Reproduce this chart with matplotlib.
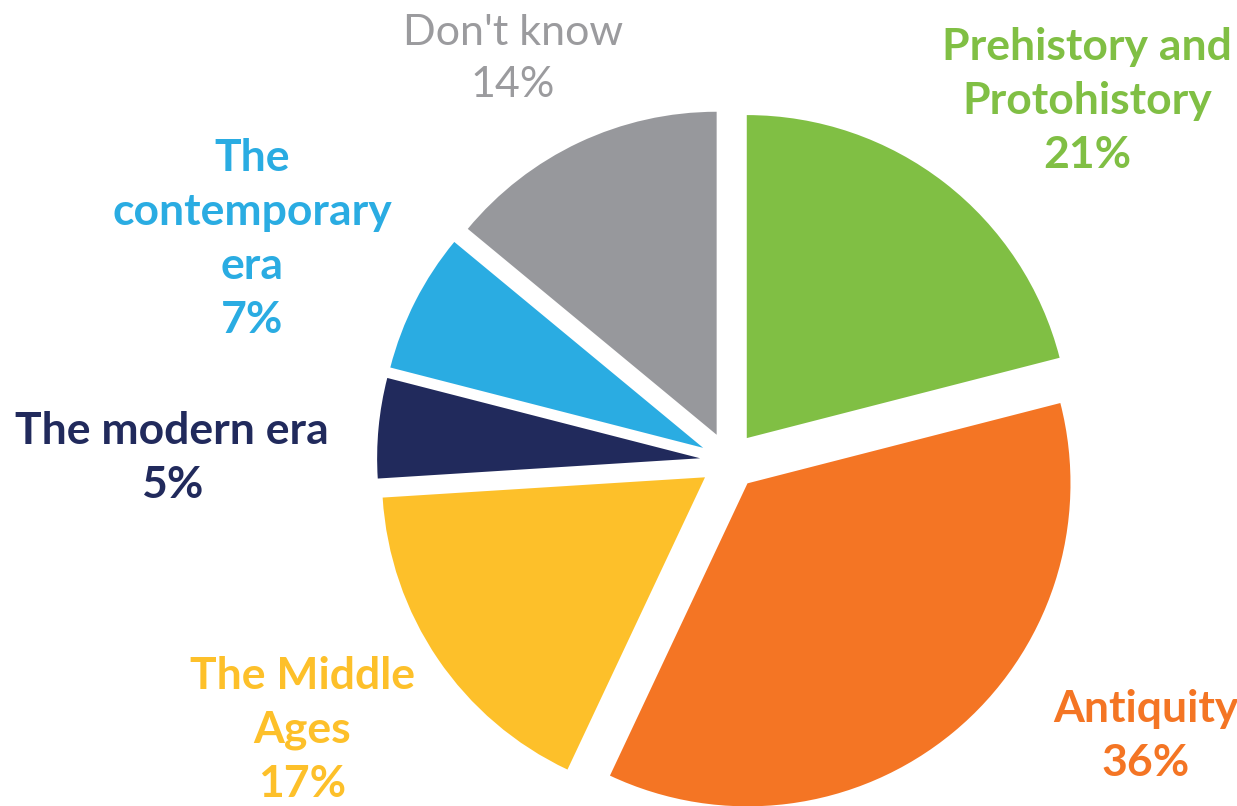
import matplotlib
matplotlib.use("Agg")
import matplotlib.pyplot as plt

categories = ["Prehistory and\nProtohistory", "Antiquity", "The Middle\nAges",
              "The modern era", "The\ncontemporary\nera", "Don't know"]
values = [21, 36, 17, 5, 7, 14]
colors = ["#80BF44", "#F47524", "#FDC02A", "#212A5C", "#2AACE2", "#97989C"]
label_colors = ["#80BF44", "#F47524", "#FDC02A", "#212A5C", "#2AACE2", "#9B9B9E"]
label_weights = ["bold", "bold", "bold", "bold", "bold", "normal"]

W, H = 1237, 806
fig = plt.figure(figsize=(W / 100, H / 100), dpi=100)
ax = fig.add_axes([0, 0, 1, 1])

cx, cy = 729, H - 461
R = 323
ax.pie(values, colors=colors, startangle=90, counterclock=False,
       center=(cx, cy), radius=R, explode=[29] * len(values),
       wedgeprops=dict(linewidth=0))
ax.set_xlim(0, W)
ax.set_ylim(0, H)
ax.set_aspect("equal")
ax.axis("off")

# label block centres (pixels from top-left)
label_pos = [(1087, 101), (1146, 736), (302, 730), (172, 458), (252, 239), (513, 59)]
for cat, v, col, wt, (px, py) in zip(categories, values, label_colors, label_weights, label_pos):
    ax.text(px, H - py, f"{cat}\n{v}%", ha="center", va="center", color=col,
            fontsize=32 if wt == "bold" else 31, fontweight=wt, family="Lato",
            linespacing=1.42)

fig.savefig("out.png", dpi=100)
